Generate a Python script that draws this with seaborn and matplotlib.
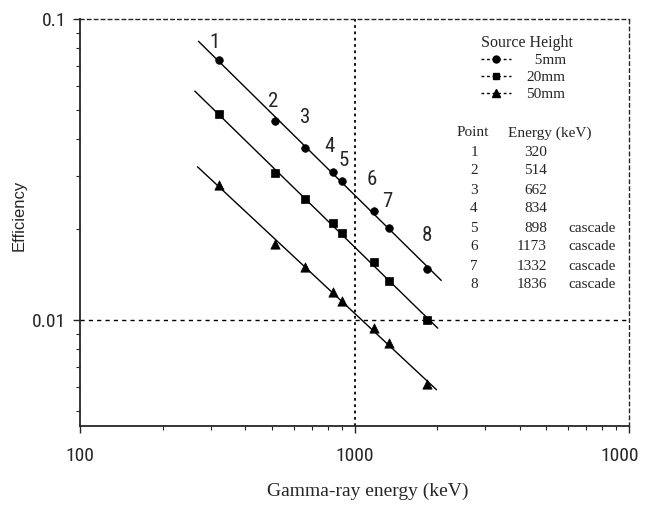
import numpy as np
import pandas as pd
import matplotlib
matplotlib.use("Agg")
import matplotlib.pyplot as plt
from matplotlib.lines import Line2D
from matplotlib import font_manager
import matplotlib.transforms as mtransforms
import seaborn as sns

# ---- data ----
points = [1, 2, 3, 4, 5, 6, 7, 8]
energies = [320, 514, 662, 834, 898, 1173, 1332, 1836]
notes = ["", "", "", "", "cascade", "cascade", "cascade", "cascade"]
heights = ["5mm", "20mm", "50mm"]
eff_5mm = [0.0732, 0.0459, 0.0374, 0.0311, 0.0289, 0.0230, 0.0203, 0.01476]
eff_20mm = [0.0485, 0.0307, 0.0252, 0.0210, 0.0194, 0.01556, 0.01346, 0.0100]
eff_50mm = [0.0282, 0.01786, 0.01498, 0.0124, 0.01156, 0.00941, 0.00839, 0.00614]
fit_start = [270, 262, 268]
fit_end = [2070, 2010, 1990]
xtick_vals = [100, 1000, 10000]
xtick_labels = ["100", "1000", "1000"]
ytick_vals = [0.01, 0.1]
ytick_labels = ["0.01", "0.1"]

effs = [eff_5mm, eff_20mm, eff_50mm]
df = pd.DataFrame({
    "energy": energies * 3,
    "efficiency": eff_5mm + eff_20mm + eff_50mm,
    "height": sum([[h] * len(energies) for h in heights], []),
})

sns.set_style("ticks")
plt.rcParams["font.family"] = ["Liberation Serif", "DejaVu Serif"]

# pick a condensed face for the tall narrow tick digits if one is installed
names = {f.name for f in font_manager.fontManager.ttflist}
cond = [n for n in ["DejaVu Serif Condensed", "DejaVu Sans Condensed",
                    "Liberation Sans Narrow", "Roboto Condensed"] if n in names]
TICKFONT = cond[:1] + ["Liberation Serif"]

fig = plt.figure(figsize=(6.45, 5.09), dpi=100)
ax = fig.add_axes([80 / 645, 1 - 426 / 509, 549 / 645, 407 / 509])

markers = {"5mm": "o", "20mm": "s", "50mm": "^"}
sizes = {"5mm": 30, "20mm": 30, "50mm": 45}
for h in heights:
    sub = df[df["height"] == h]
    sns.scatterplot(data=sub, x="energy", y="efficiency", marker=markers[h],
                    s=sizes[h], color="black", edgecolor="black", linewidth=0.5,
                    ax=ax, legend=False, zorder=3)

# fitted lines (power law fit in log space)
for h, e, x0, x1 in zip(heights, effs, fit_start, fit_end):
    k, b = np.polyfit(np.log10(energies), np.log10(e), 1)
    xs = np.geomspace(x0, x1, 50)
    ys = 10 ** (k * np.log10(xs) + b)
    sns.lineplot(x=xs, y=ys, color="black", linewidth=1.0, ax=ax, zorder=2)

ax.set_xscale("log")
ax.set_yscale("log")
ax.set_xlim(100, 10000)
ax.set_ylim(0.00445, 0.1)

ax.set_xticks(xtick_vals)
ax.set_xticklabels(xtick_labels, fontfamily=TICKFONT, fontsize=14)
ax.set_yticks(ytick_vals)
ax.set_yticklabels(ytick_labels, fontfamily=TICKFONT, fontsize=14)
ax.tick_params(axis="both", which="major", direction="out", length=5, width=1)
ax.tick_params(axis="y", which="major", pad=5)
ax.tick_params(axis="x", which="major", pad=10)
ax.tick_params(axis="both", which="minor", direction="out", length=3, width=0.8)
ax.yaxis.set_minor_formatter(matplotlib.ticker.NullFormatter())
ax.xaxis.set_minor_formatter(matplotlib.ticker.NullFormatter())

# last x label sits slightly left of its tick, as in the scan
last = ax.get_xticklabels()[-1]
last.set_transform(last.get_transform() + mtransforms.ScaledTranslation(-9 / 100, 0, fig.dpi_scale_trans))

for s in ["left", "bottom"]:
    ax.spines[s].set_linewidth(1.3)
for s in ["top", "right"]:
    ax.spines[s].set_linestyle((0, (2.5, 2.5)))
    ax.spines[s].set_linewidth(1.0)

ax.axvline(1000, color="black", linestyle=(0, (1.5, 2)), linewidth=1.3, zorder=1)
ax.axhline(0.01, color="black", linestyle=(0, (3, 3)), linewidth=1.0, zorder=1)

ax.set_xlabel("Gamma-ray energy (keV)", fontsize=14)
ax.set_ylabel("Efficiency", fontsize=12, fontfamily=["Liberation Sans", "DejaVu Sans"])
ax.xaxis.set_label_coords(0.525, -0.14)
ax.yaxis.set_label_coords(-0.097, 0.518)

# point number labels above the 5mm series
offsets = [(-4, 17), (-2, 19), (0, 30), (-3, 25), (2, 21), (-2, 32), (-1, 26), (0, 34)]
for p, x, y, off in zip(points, energies, eff_5mm, offsets):
    ax.annotate(str(p), (x, y), xytext=off, textcoords="offset pixels",
                ha="center", va="center", fontsize=15, fontfamily=TICKFONT)

# legend: source height
handles = [Line2D([], [], color="black", linestyle=(0, (2, 2)), linewidth=1,
                  marker=markers[h], markersize=5 if h != "50mm" else 6)
           for h in heights]
labels = ["  5mm", "20mm", "50mm"]
leg = ax.legend(handles, labels, title="Source Height", frameon=False,
                loc="upper left", bbox_to_anchor=((470 - 80) / 549, (426 - 24) / 407),
                fontsize=11, title_fontsize=11.5, handlelength=2.0,
                handletextpad=1.0, labelspacing=0.2, borderpad=0.2)
leg._legend_box.align = "left"


def px(xp, yp):
    return ((xp - 80) / 549, (426 - yp) / 407)


tk = dict(transform=ax.transAxes, fontsize=11, va="center")
ax.text(*px(457, 133), "Point", ha="left", **tk)
ax.text(*px(508, 133), "Energy (keV)", ha="left", **tk)
for i, (p, e, n) in enumerate(zip(points, energies, notes)):
    yp = 152 + 19 * i
    ax.text(*px(474, yp), str(p), ha="center", **tk)
    ax.text(*px(547, yp), str(e), ha="right", **tk)
    if n:
        ax.text(*px(568, yp), n, ha="left", **tk)

fig.savefig("out.png", dpi=100)
